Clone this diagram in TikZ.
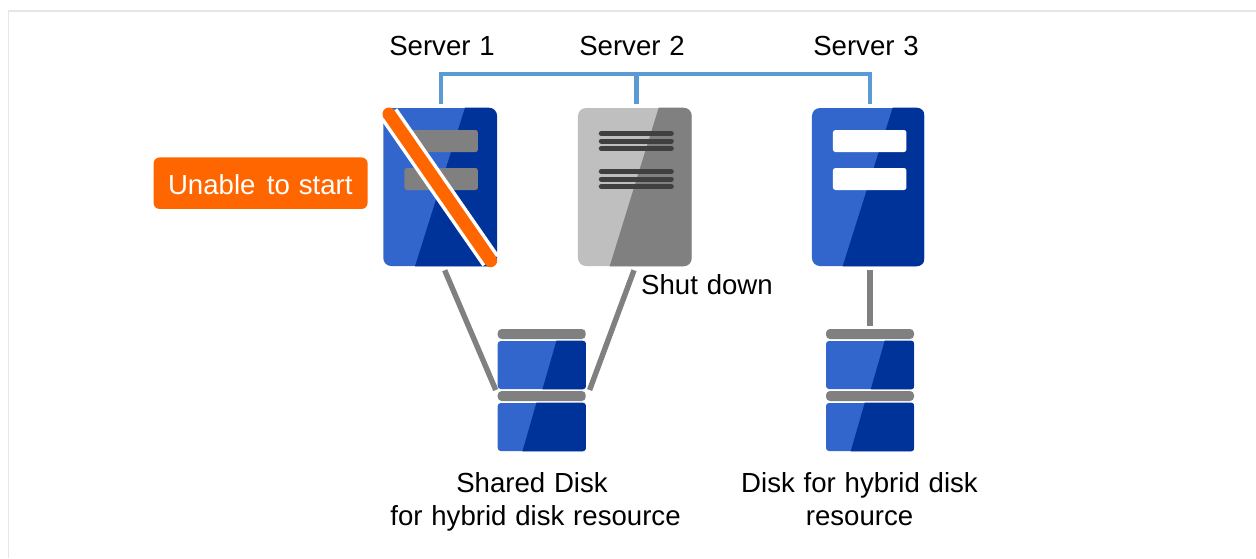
\documentclass[tikz,border=0pt]{standalone}
\usepackage{fontspec}
\setmainfont[WordSpace=1.15]{Liberation Sans}
\usetikzlibrary{calc}
\definecolor{bluelight}{HTML}{3366CC}
\definecolor{bluedark}{HTML}{003399}
\definecolor{graymid}{HTML}{808080}
\definecolor{graylight}{HTML}{BFBFBF}
\definecolor{stripe}{HTML}{404040}
\definecolor{orangec}{HTML}{FF6600}
\definecolor{busc}{HTML}{5B9BD5}
\definecolor{framec}{HTML}{E6E6E6}
\newcommand{\pxu}{0.75pt}
\newcommand{\glassbox}[6]{% name, light, dark, top x offset from west, bottom x offset from west, radius
  \begin{scope}
    \path[clip,rounded corners=#6*\pxu] (#1.south west) rectangle (#1.north east);
    \fill[#3] ($(#1.north west)+(#4,0)$) -- (#1.north east) -- (#1.south east) -- ($(#1.south west)+(#5,0)$) -- cycle;
  \end{scope}}
\tikzset{
  x=\pxu, y=-\pxu,
  every node/.style={font=\fontsize{20.7pt}{24pt}\selectfont, text=black},
  labeltext/.style={inner sep=0pt, align=center},
  serverbox/.style={minimum width=113.5*\pxu, minimum height=158*\pxu, inner sep=0pt, rounded corners=8*\pxu, fill=#1},
  diskbody/.style={minimum width=88*\pxu, minimum height=48*\pxu, inner sep=0pt, rounded corners=3*\pxu, fill=bluelight},
  diskbar/.style={minimum width=88*\pxu, minimum height=10*\pxu, inner sep=0pt, rounded corners=4*\pxu, fill=graymid},
  slot/.style={minimum width=73.5*\pxu, minimum height=22*\pxu, inner sep=0pt, rounded corners=2.5*\pxu, fill=#1},
  busline/.style={draw=busc, line width=4.4*\pxu},
  diskline/.style={draw=graymid, line width=5.4*\pxu},
  stripeline/.style={draw=stripe, line width=5*\pxu, line cap=round},
}
\begin{document}
\begin{tikzpicture}
\useasboundingbox (0,0) rectangle (1256,558);
\fill[white] (0,0) rectangle (1256,558);
\draw[framec, line width=1.5*\pxu] (8.5,558) -- (8.5,11) -- (1256,11);

% servers
\node[serverbox=bluelight] (s1) at (440,187) {};
\glassbox{s1}{bluelight}{bluedark}{82*\pxu}{32*\pxu}{8}
\node[serverbox=graylight] (s2) at (634.7,187) {};
\glassbox{s2}{graylight}{graymid}{81*\pxu}{32*\pxu}{8}
\node[serverbox=bluelight, minimum width=112.5*\pxu] (s3) at (868.2,187) {};
\glassbox{s3}{bluelight}{bluedark}{81*\pxu}{31*\pxu}{8}

% slots
\node[slot=graymid] (s1a) at (441.2,141) {};
\node[slot=graymid] (s1b) at (441.2,179) {};
\node[slot=white] (s3a) at (869.7,141) {};
\node[slot=white] (s3b) at (869.7,179) {};
\coordinate (s2a) at (636.3,141);
\coordinate (s2b) at (636.3,179);
\foreach \c in {s2a,s2b}
  \foreach \d in {-7.5,0,7.5}
    \draw[stripeline] ($(\c)+(-35,\d)$) -- ($(\c)+(35,\d)$);

% cross-out on server 1
\coordinate (xa) at (389,114);
\coordinate (xb) at (490.7,260.7);
\draw[white, line width=20*\pxu] (xa) -- (xb);
\draw[orangec, line width=13*\pxu, line cap=round] (xa) -- (xb);

% disks
\foreach \n/\x in {d1/541.7,d2/870}{
  \node[diskbar] (\n t) at (\x,334) {};
  \node[diskbody] (\n a) at (\x,365) {};
  \node[diskbar] (\n m) at (\x,396) {};
  \node[diskbody] (\n b) at (\x,427) {};
  \glassbox{\n a}{bluelight}{bluedark}{59*\pxu}{45*\pxu}{3}
  \glassbox{\n b}{bluelight}{bluedark}{39*\pxu}{25*\pxu}{3}
}

% bus
\coordinate (bus1) at (441,74);
\coordinate (bus2) at (636.5,74);
\coordinate (bus3) at (870,74);
\draw[busline] (bus1 |- s1.north) ++(0,-4) -- (bus1) -- (bus3) -- ++(0,30);
\draw[busline] (bus2) -- ++(0,30);

% disk connections
\draw[diskline] ($(s1.south)+(4.7,4)$) -- ($(d1m.west)+(-1.7,-6)$);
\draw[diskline] ($(s2.south)+(-0.7,4)$) -- ($(d1m.east)+(3.6,-6)$);
\draw[diskline] ($(d2t.north |- s3.south)+(0,4)$) -- ($(d2t.north)+(0,-3)$);

% labels
\node[labeltext, anchor=base] (l1) at (442,55) {Server 1};
\node[labeltext, anchor=base] (l2) at (632,55) {Server 2};
\node[labeltext, anchor=base] (l3) at (866,55) {Server 3};
\node[labeltext, anchor=base] (l4) at (707,294) {Shut down};
\node[labeltext, anchor=base] (l5) at (532,492) {Shared Disk};
\node[labeltext, anchor=base] (l6) at (535.5,525) {for hybrid disk resource};
\node[labeltext, anchor=base] (l7) at (859.5,492) {Disk for hybrid disk};
\node[labeltext, anchor=base] (l8) at (859.5,525) {resource};

\node[minimum width=214*\pxu, minimum height=51.5*\pxu, inner sep=0pt, rounded corners=6*\pxu, fill=orangec] (st) at (260.6,183.2) {};
\node[labeltext, anchor=base, text=white] (stt) at (260.3,194) {Unable\hspace{2pt} to start};
\end{tikzpicture}
\end{document}
